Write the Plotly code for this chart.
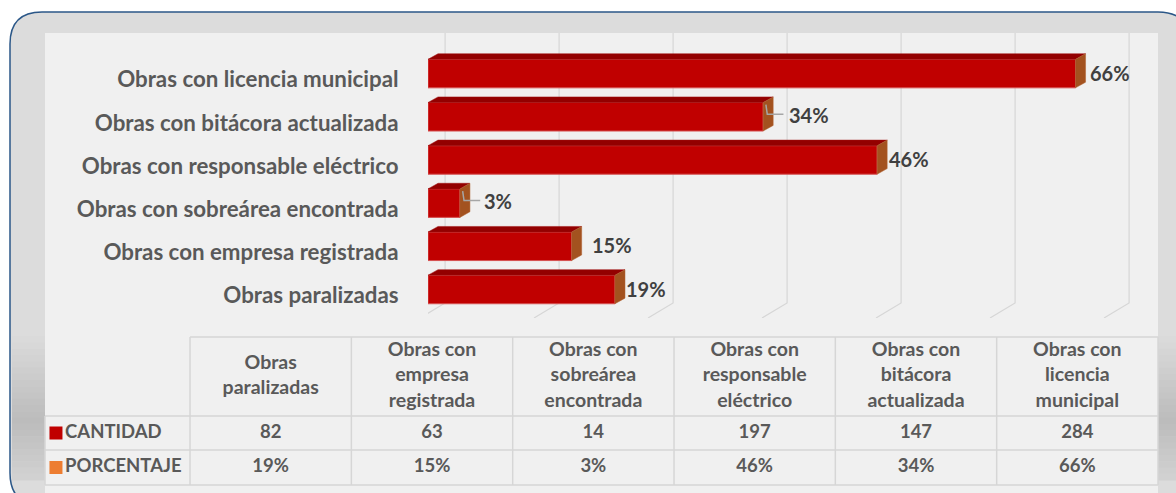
import textwrap
import plotly.graph_objects as go

# data
categorias = [
    "Obras paralizadas",
    "Obras con empresa registrada",
    "Obras con sobreárea encontrada",
    "Obras con responsable eléctrico",
    "Obras con bitácora actualizada",
    "Obras con licencia municipal",
]
cantidad = [82, 63, 14, 197, 147, 284]
porcentaje = [19, 15, 3, 46, 34, 66]
grid_ticks = [0, 50, 100, 150, 200, 250, 300]
filas = ["CANTIDAD", "PORCENTAJE"]

W, H = 1176, 493
RED = "#c00000"
ORANGE = "#ed7d31"
TXT = "#595959"
FONT = "Lato"


def px(x):
    return x / W


def py(y):
    return 1 - y / H


idx = list(range(len(categorias)))
bw = 0.66          # bar thickness (category units)
dx, dy = 4.4, 0.13  # 3d depth of the bars
gx_back, gx_front = 7.5, -3.5  # gridline back / floor offsets

fig = go.Figure()

# ---- background frame ----
shapes = []
r = 32
x0, x1, y0, y1 = 10, 1190, 12, 505
path = (f"M {px(x0 + r)},{py(y0)} L {px(x1 - r)},{py(y0)} "
        f"Q {px(x1)},{py(y0)} {px(x1)},{py(y0 + r)} L {px(x1)},{py(y1 - r)} "
        f"Q {px(x1)},{py(y1)} {px(x1 - r)},{py(y1)} L {px(x0 + r)},{py(y1)} "
        f"Q {px(x0)},{py(y1)} {px(x0)},{py(y1 - r)} L {px(x0)},{py(y0 + r)} "
        f"Q {px(x0)},{py(y0)} {px(x0 + r)},{py(y0)} Z")
shapes.append(dict(type="path", xref="paper", yref="paper", path=path,
                   fillcolor="#dcdcdc", line=dict(color="#2b5788", width=1.5),
                   layer="below"))
# darker band in the side gutters
n = 24
for k in range(n):
    ya = 330 + k * 150 / n
    yb = ya + 150 / n + 0.5
    t = 1 - abs((k + 0.5) / n - 0.6) / 0.6
    g = int(222 - 34 * max(t, 0))
    col = f"rgb({g},{g},{g})"
    for xa, xb in [(12, 45), (1158, 1176)]:
        shapes.append(dict(type="rect", xref="paper", yref="paper",
                           x0=px(xa), x1=px(xb), y0=py(yb), y1=py(ya),
                           fillcolor=col, line_width=0, layer="below"))
shapes.append(dict(type="rect", xref="paper", yref="paper",
                   x0=px(45), x1=px(1158), y0=py(495), y1=py(33),
                   fillcolor="#f0f0f0", line_width=0, layer="below"))

# ---- 3d gridlines ----
y_top, y_floor, y_front = 5.94, -0.31, -0.66
for t in grid_ticks:
    shapes.append(dict(type="path", xref="x", yref="y", layer="below",
                       path=f"M {t + gx_back},{y_top} L {t + gx_back},{y_floor} "
                            f"L {t + gx_front},{y_front}",
                       line=dict(color="#d6d6d6", width=1.2)))

# ---- bars ----
fig.add_trace(go.Bar(
    x=cantidad, y=idx, orientation="h", width=bw,
    marker=dict(color=RED, line=dict(color="#d65050", width=1)),
    customdata=porcentaje,
    hovertemplate="%{text}<br>%{x} (%{customdata}%)<extra></extra>",
    text=categorias, textposition="none",
    xaxis="x", yaxis="y", showlegend=False,
))
for i, v in zip(idx, cantidad):
    top = i + bw / 2
    bot = i - bw / 2
    shapes.append(dict(type="path", xref="x", yref="y",
                       path=f"M 0,{top} L {v},{top} L {v + dx},{top + dy} L {dx},{top + dy} Z",
                       fillcolor="#930000", line=dict(color="#a01010", width=0.5)))
    shapes.append(dict(type="path", xref="x", yref="y",
                       path=f"M {v},{bot} L {v},{top} L {v + dx},{top + dy} L {v + dx},{bot + dy} Z",
                       fillcolor="#a3521f", line=dict(color="#b06030", width=0.5)))

# data labels (percentages)
label_gap = [-1, 8, 12, 0, 14, 2]
leader = [False, False, True, False, True, False]
annotations = []
for i, v, p, g, ld in zip(idx, cantidad, porcentaje, label_gap, leader):
    annotations.append(dict(x=v + dx, y=i, xref="x", yref="y", text=f"<b>{p}%</b>",
                            showarrow=False, xanchor="left", yanchor="middle",
                            xshift=g, yshift=2 if ld else 1,
                            font=dict(family=FONT, size=20, color="#404040")))
    if ld:
        shapes.append(dict(type="path", xref="x", yref="y",
                           path=f"M {v + 1.2},{i + 0.28} L {v + 1.8},{i + 0.06} L {v + dx + 4.5},{i + 0.06}",
                           line=dict(color="#a6a6a6", width=1.5)))

# ---- data table ----
xr0 = -0.5 - 145 / 161.3
xr = [xr0 - 0.025, 5.52]
yr = [-1, 149]
h_porc, h_cant, h_head, h_top = 0, 35, 69, 148
tbl_line = dict(color="#d6d6d6", width=1.5)
for yy, xa in [(h_top, -0.5), (h_head, xr0), (h_cant, xr0), (h_porc, xr0)]:
    shapes.append(dict(type="line", xref="x2", yref="y2", x0=xa, x1=5.5,
                       y0=yy, y1=yy, line=tbl_line))
shapes.append(dict(type="line", xref="x2", yref="y2", x0=xr0, x1=xr0,
                   y0=h_porc, y1=h_head, line=tbl_line))
for c in range(len(categorias) + 1):
    shapes.append(dict(type="line", xref="x2", yref="y2", x0=c - 0.5, x1=c - 0.5,
                       y0=h_porc, y1=h_top, line=tbl_line))

head_txt = ["<br>".join(textwrap.wrap(c, 11)) for c in categorias]
hfont = dict(family=FONT, size=19.5, color=TXT)
tfont = dict(family=FONT, size=18.5, color=TXT)
fig.add_trace(go.Scatter(
    x=idx, y=[(h_head + h_top) / 2] * len(idx), mode="text",
    text=[f"<b>{t}</b>" for t in head_txt], textfont=hfont,
    xaxis="x2", yaxis="y2", showlegend=False, hoverinfo="skip"))
fig.add_trace(go.Scatter(
    x=idx, y=[(h_cant + h_head) / 2] * len(idx), mode="text",
    text=[f"<b>{v}</b>" for v in cantidad], textfont=tfont,
    xaxis="x2", yaxis="y2", showlegend=False, hoverinfo="skip"))
fig.add_trace(go.Scatter(
    x=idx, y=[(h_porc + h_cant) / 2] * len(idx), mode="text",
    text=[f"<b>{p}%</b>" for p in porcentaje], textfont=tfont,
    xaxis="x2", yaxis="y2", showlegend=False, hoverinfo="skip"))
fig.add_trace(go.Scatter(
    x=[xr0 + 0.068] * 2, y=[(h_cant + h_head) / 2, (h_porc + h_cant) / 2],
    mode="markers+text", text=[f"<b>{f}</b>" for f in filas],
    textposition="middle right", textfont=tfont,
    marker=dict(symbol="square", size=13, color=[RED, ORANGE]),
    xaxis="x2", yaxis="y2", showlegend=False, hoverinfo="skip"))

fig.update_layout(
    width=W, height=H,
    margin=dict(l=0, r=0, t=0, b=0),
    paper_bgcolor="white", plot_bgcolor="rgba(0,0,0,0)",
    shapes=shapes, annotations=annotations,
    xaxis=dict(domain=[px(428), px(428 + 320 * 2.28)], range=[0, 320],
               showticklabels=False, showgrid=False, zeroline=False, fixedrange=True),
    yaxis=dict(domain=[py(318), py(33)], range=[-0.66, 5.94],
               tickvals=[i - 0.14 for i in idx], ticktext=[f"<b>{c}</b>" for c in categorias],
               ticks="outside", ticklen=24, tickcolor="rgba(0,0,0,0)",
               tickfont=dict(family=FONT, size=22.3, color=TXT),
               showgrid=False, zeroline=False, fixedrange=True),
    xaxis2=dict(domain=[px(45 - 0.025 * 161.3), px(1158 + 0.02 * 161.3)], range=xr,
                visible=False, fixedrange=True),
    yaxis2=dict(domain=[py(486), py(336)], range=yr, visible=False, fixedrange=True),
)

# drop the default page margin so the figure sits at the window origin
fig.write_html("out.html", config={"displayModeBar": False},
               post_script="document.body.style.margin='0';")
